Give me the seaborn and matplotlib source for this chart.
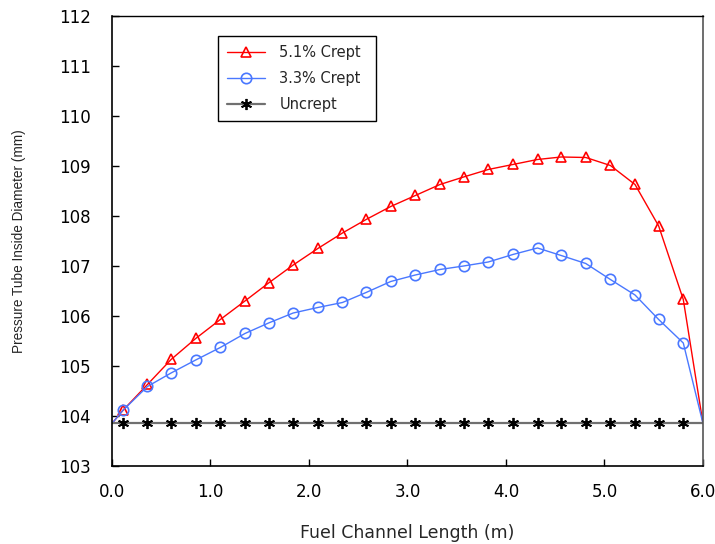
import matplotlib
matplotlib.use("Agg")
import matplotlib.pyplot as plt
import seaborn as sns
import numpy as np

# ---- data ----
x_pos = [0.0, 0.11, 0.36, 0.60, 0.85, 1.10, 1.35, 1.59, 1.84, 2.09, 2.34, 2.58, 2.83,
         3.08, 3.33, 3.57, 3.82, 4.07, 4.32, 4.56, 4.81, 5.06, 5.31, 5.55, 5.80, 6.0]

crept_51 = [103.85, 104.11, 104.63, 105.13, 105.55, 105.93, 106.30, 106.66, 107.02,
            107.35, 107.66, 107.93, 108.19, 108.41, 108.63, 108.78, 108.93, 109.03,
            109.13, 109.18, 109.17, 109.01, 108.63, 107.80, 106.33, 103.85]

crept_33 = [103.85, 104.11, 104.59, 104.86, 105.12, 105.37, 105.65, 105.86, 106.06,
            106.17, 106.27, 106.47, 106.69, 106.82, 106.93, 107.00, 107.08, 107.23,
            107.36, 107.21, 107.05, 106.73, 106.42, 105.93, 105.46, 103.85]

uncrept = [103.85] * len(x_pos)

series_labels = ["5.1% Crept", "3.3% Crept", "Uncrept"]
x_ticks = [0.0, 1.0, 2.0, 3.0, 4.0, 5.0, 6.0]
x_tick_labels = ["0.0", "1.0", "2.0", "3.0", "4.0", "5.0", "6.0"]
y_ticks = [103, 104, 105, 106, 107, 108, 109, 110, 111, 112]

sns.set_theme(style="white")
plt.rcParams['font.family'] = ['DejaVu Sans']

fig = plt.figure(figsize=(7.15, 5.44), dpi=100)
ax = fig.add_axes([0.1566, 0.1434, 0.8266, 0.8272])

inner = list(range(1, len(x_pos) - 1))

sns.lineplot(x=x_pos, y=crept_51, ax=ax, color="#FF0000", lw=1.0, sort=False,
             errorbar=None, marker="^", markersize=7, markerfacecolor="none",
             markeredgecolor="#FF0000", markeredgewidth=1.2, markevery=inner,
             label=series_labels[0])
sns.lineplot(x=x_pos, y=crept_33, ax=ax, color="#4A78FF", lw=1.0, sort=False,
             errorbar=None, marker="o", markersize=7.5, markerfacecolor="none",
             markeredgecolor="#4A78FF", markeredgewidth=1.2, markevery=inner,
             label=series_labels[1])
sns.lineplot(x=x_pos, y=uncrept, ax=ax, color="#707070", lw=1.6, sort=False,
             errorbar=None, marker=(6, 2, 0), markersize=8,
             markeredgecolor="black", markerfacecolor="black", markeredgewidth=1.3,
             markevery=inner, label=series_labels[2])

ax.set_xlim(0, 6.0)
ax.set_ylim(103, 112)
ax.set_xticks(x_ticks)
ax.set_xticklabels(x_tick_labels)
ax.set_yticks(y_ticks)

for s in ax.spines.values():
    s.set_visible(True)
    s.set_color("black")
    s.set_linewidth(1.2)
ax.spines['right'].set_color("#555555")
ax.spines['top'].set_linewidth(1.0)

ax.tick_params(axis='both', direction='in', length=5, width=1, colors='black',
               labelsize=12, bottom=True, left=True)
ax.tick_params(axis='y', pad=15)
ax.tick_params(axis='x', pad=12)

ax.set_xlabel("Fuel Channel Length (m)", fontsize=12.5, labelpad=17)
ax.set_ylabel("Pressure Tube Inside Diameter (mm)", fontsize=9.8, labelpad=24,
              family=['Liberation Sans', 'DejaVu Sans'])

leg = ax.legend(loc='upper left', bbox_to_anchor=(0.179, 0.755, 0.267, 0.2),
                mode='expand',
                prop={'family': 'DejaVu Sans', 'size': 10.5},
                frameon=True, fancybox=False, edgecolor='black', framealpha=1,
                handlelength=2.6, labelspacing=0.75, borderpad=0.62,
                handletextpad=1.0, borderaxespad=0)
leg.get_frame().set_linewidth(1.0)

fig.savefig("out.png", dpi=100)
